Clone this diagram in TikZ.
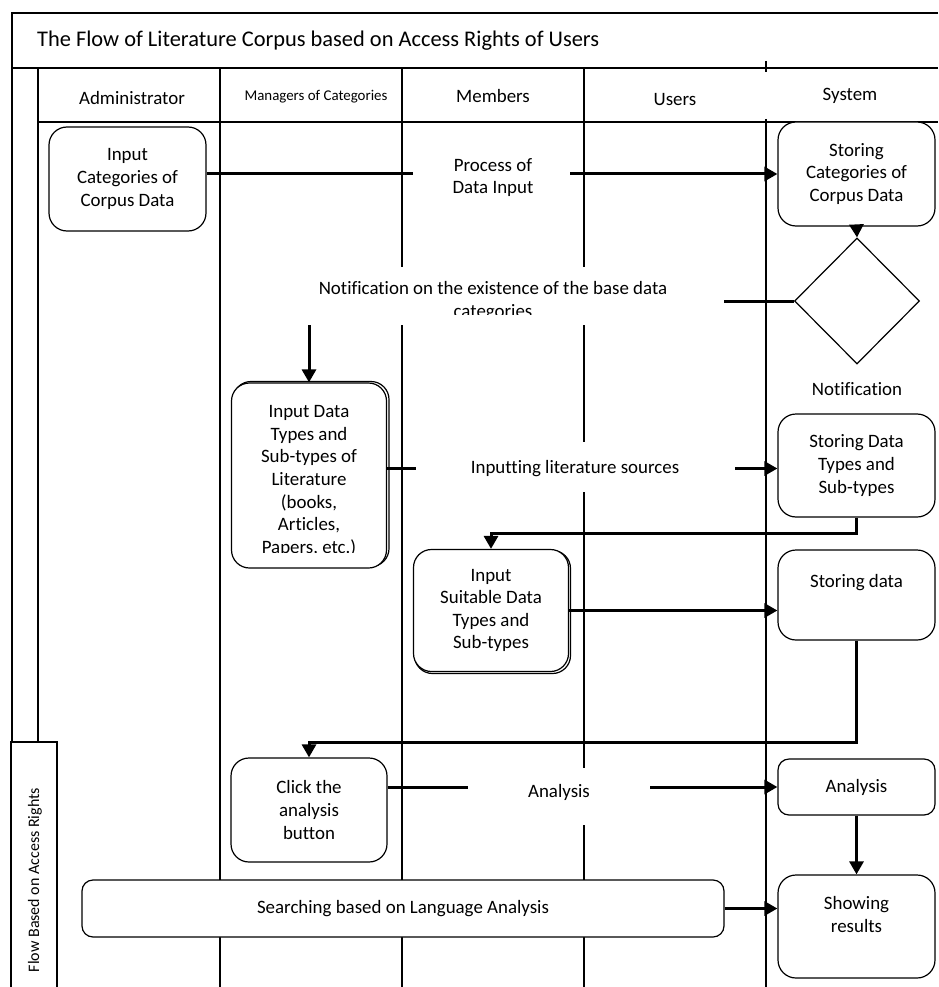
\documentclass[tikz,border=0pt]{standalone}
\usepackage{fontspec}
\setmainfont{Carlito}[Ligatures={NoCommon,NoContextual,NoRequired}]
\usetikzlibrary{arrows.meta,shapes.geometric}
\newcommand\actfont{\fontsize{18.9}{22.6}\selectfont}
\newcommand\smallhead{\fontsize{14.9}{17}\selectfont}
\begin{document}
\begin{tikzpicture}[x=1pt,y=-1pt,
  lane/.style={line width=1.3pt},
  flow/.style={line width=3pt},
  arrowflow/.style={flow,-{Triangle[length=13pt,width=14pt]}},
  act/.style={draw,line width=1.2pt,rounded corners=18pt,fill=white,inner sep=0pt,align=center,font=\actfont},
  backact/.style={draw,line width=1.2pt,rounded corners=18pt,fill=white,inner sep=0pt},
  cover/.style={fill=white,inner sep=0pt},
  lbl/.style={align=center,font=\actfont,inner sep=0pt},
  head/.style={font=\actfont,inner sep=0pt},
]
\useasboundingbox (0,0) rectangle (938,987);

% ---- pool frame, title bar and header row ----
\draw[lane] (938,13) -- (12,13) -- (12,742);
\draw[lane] (12,68) -- (938,68);
\draw[lane] (38,68) -- (38,742);
\draw[lane] (38,122) -- (938,122);
\node[anchor=west,font=\fontsize{22.4}{26}\selectfont,inner sep=0pt] (title) at (37,41)
  {The Flow of Literature Corpus based on Access Rights of Users};

% lane separators
\draw[lane] (220,68) -- (220,987);
\draw[lane] (402,68) -- (402,987);
\draw[lane] (584,68) -- (584,987);
\draw[lane] (766,61) -- (766,72);
\draw[lane] (766,119) -- (766,987);

% lane headers
\node[head] (hadmin) at (132,98) {Administrator};
\node[head,font=\smallhead] (hman) at (316,97) {Managers of Categories};
\node[head] (hmem) at (493,96) {Members};
\node[head] (huser) at (675,100) {Users};
\node[head] (hsys) at (850,96) {System};

% vertical pool label
\draw[lane,fill=white] (11,990) -- (11,742) -- (57,742) -- (57,990);
\node[rotate=90,font=\fontsize{16}{19}\selectfont,inner sep=0pt] (pool) at (35,880)
  {Flow Based on Access Rights};

% ---- activities ----
\node[act,minimum width=157,minimum height=104] (incat) at (127.5,179)
  {Input\\Categories of\\Corpus Data};
\node[act,minimum width=157,minimum height=104] (stcat) at (856.5,174)
  {Storing\\Categories of\\Corpus Data};
\node[draw,diamond,line width=1.2pt,fill=white,minimum width=125,minimum height=126,inner sep=0pt] (dec) at (857,301) {};
\node[lbl] (notif) at (857,389) {Notification};

\node[backact,minimum width=156,minimum height=185] (indtback) at (311,474) {};
\node[act,minimum width=155,minimum height=185] (indt) at (309,475.5) {};
\begin{scope}
  \clip (231,383) rectangle (387,552);
  \node[lbl] (indttext) at (309,481)
    {Input Data\\Types and\\Sub-types of\\Literature\\(books,\\Articles,\\Papers, etc.)};
\end{scope}

\node[act,minimum width=157,minimum height=103] (stdt) at (856.5,465.5)
  {Storing Data\\Types and\\Sub-types};

\node[backact,minimum width=156,minimum height=123] (insuitback) at (492.5,612) {};
\node[act,minimum width=155,minimum height=122] (insuit) at (491,610.5)
  {Input\\Suitable Data\\Types and\\Sub-types};

\node[act,minimum width=157,minimum height=90] (stdata) at (856.5,595) {};
\node[lbl] (stdatatext) at (856.5,583) {Storing data};

\node[act,minimum width=156,minimum height=104] (click) at (309,810)
  {Click the\\analysis\\button};
\node[act,rounded corners=11pt,minimum width=157,minimum height=56] (analysis) at (856.5,787)
  {Analysis};
\node[act,minimum width=157,minimum height=103] (shows) at (856.5,926.5) {};
\node[lbl] (showstext) at (856.5,914.5) {Showing\\results};

\node[act,rounded corners=11pt,minimum width=642,minimum height=57] (search) at (403,908.5)
  {Searching based on Language Analysis};

% ---- flows ----
\draw[arrowflow] (incat.east |- stcat.west) -- (stcat.west);
\draw[arrowflow] (stcat.south) -- (dec.north);
\draw[arrowflow] (dec.west) -| (indt.north);
\coordinate (litrow) at ([yshift=-3pt]stdt.west);
\draw[arrowflow] (litrow -| indt.east) -- (litrow);
\draw[arrowflow] (stdt.south) -- ++(0,16) -| (insuit.north);
\draw[arrowflow] (insuit.east) -- (insuit.east -| stdata.west);
\draw[arrowflow] (stdata.south) -- ++(0,102) -| (click.north);
\draw[arrowflow] (click.east |- analysis.west) -- (analysis.west);
\draw[arrowflow] (analysis.south) -- (shows.north);
\draw[arrowflow] (search.east) -- (search.east -| shows.west);

% ---- flow labels on white panels ----
\node[cover,minimum width=157,minimum height=65] (procpanel) at (491.5,177) {};
\node[lbl] (proctext) at (493,177.5) {Process of\\Data Input};

\node[cover,minimum width=462,minimum height=58] (notepanel) at (493,296) {};
\begin{scope}
  \clip (262,267) rectangle (724,314);
  \node[lbl] (notetext) at (493,301)
    {Notification on the existence of the base data\\categories};
\end{scope}

\node[cover,minimum width=319,minimum height=50] (litpanel) at (575.5,467) {};
\node[lbl] (littext) at (575,469) {Inputting literature sources};

\node[cover,minimum width=182,minimum height=57] (anpanel) at (559,796.5) {};
\node[lbl] (antext) at (559,792) {Analysis};
\end{tikzpicture}
\end{document}
